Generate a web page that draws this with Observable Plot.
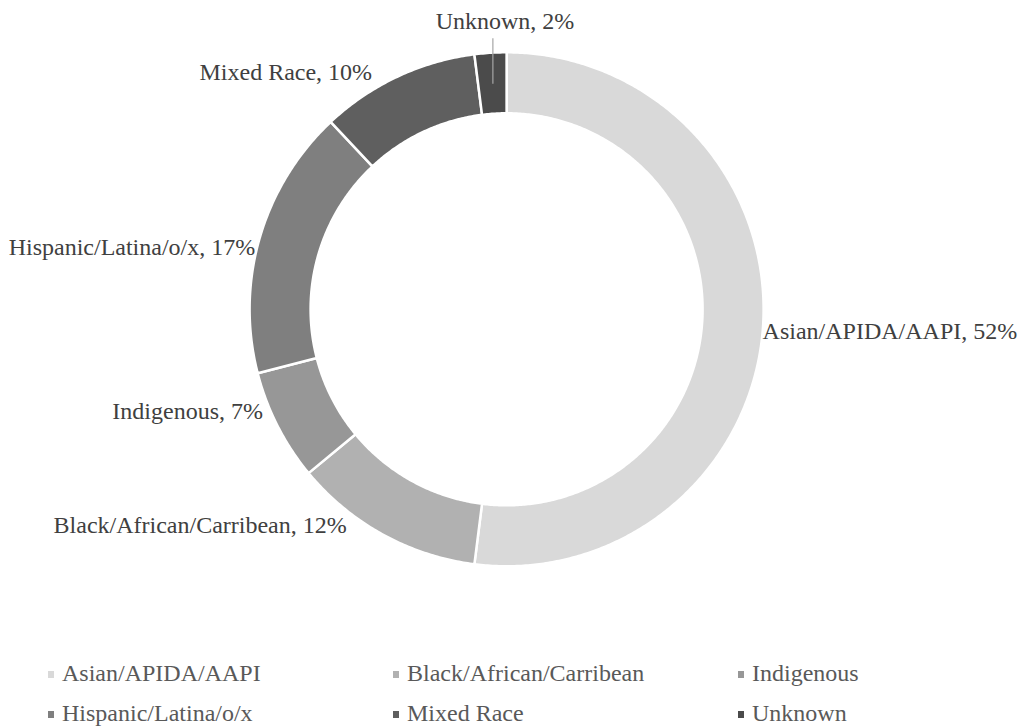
<!DOCTYPE html>
<html>
<head>
<meta charset="utf-8">
<script src="https://cdn.jsdelivr.net/npm/d3@7"></script>
<script src="https://cdn.jsdelivr.net/npm/@observablehq/plot@0.6"></script>
<style>
  body { margin: 0; background: #fff; font-family: "Liberation Serif", "Tinos", "DejaVu Serif", "Times New Roman", serif; }
  #chart { position: absolute; left: 0; top: 0; }
  #legend { position: absolute; left: 0; top: 653px; padding-left: 48px; display: grid;
            grid-template-columns: 345px 345px 300px; line-height: 40px; font-size: 24px; color: #595959;
            font-family: "Liberation Serif", "Tinos", "DejaVu Serif", "Times New Roman", serif; }
  #legend .sw { display: inline-block; width: 6px; height: 7px; margin-right: 8px; vertical-align: 3px; }
</style>
</head>
<body>
<div id="chart"></div>
<div id="legend"></div>
<script>
// ---- data ----
const categories = ["Asian/APIDA/AAPI", "Black/African/Carribean", "Indigenous", "Hispanic/Latina/o/x", "Mixed Race", "Unknown"];
const shares = [52, 12, 7, 17, 10, 2];
const colors = ["#d9d9d9", "#b1b1b1", "#979797", "#7f7f7f", "#5f5f5f", "#4b4b4b"];
// legend order (row-major, 3 columns)
const legendOrder = ["Asian/APIDA/AAPI", "Black/African/Carribean", "Indigenous", "Hispanic/Latina/o/x", "Mixed Race", "Unknown"];

// ---- layout ----
const W = 1021, H = 640;
const cx = 506.6, cy = 309.3;
const R = 257, r = 196;
// label nudges (px) from the slice's outer mid-point, and anchor side
const labelLayout = {
  "Asian/APIDA/AAPI":        {dx: 0,   dy: 5,   anchor: "start"},
  "Black/African/Carribean": {dx: -37, dy: -9,  anchor: "end"},
  "Indigenous":              {dx: -16, dy: -15, anchor: "end"},
  "Hispanic/Latina/o/x":     {dx: -6,  dy: 9,   anchor: "end"},
  "Mixed Race":              {dx: -26, dy: -6,  anchor: "end"},
  "Unknown":                 {dx: 14,  dy: -33, anchor: "middle"}
};

const pie = d3.pie().sort(null).value(d => d)(shares);
const polar = (a, rad) => [Math.sin(a) * rad, -Math.cos(a) * rad];

const ringPts = [];
const labels = [];
const leaders = [];
pie.forEach((p, i) => {
  const name = categories[i];
  const span = p.endAngle - p.startAngle;
  const n = Math.max(2, Math.ceil(span * 180 / Math.PI * 2));
  for (let k = 0; k <= n; k++) {
    const a = p.startAngle + span * k / n;
    const [ox, oy] = polar(a, R);
    const [ix, iy] = polar(a, r);
    ringPts.push({name, ox, oy, ix, iy});
  }
  const mid = (p.startAngle + p.endAngle) / 2;
  const [mx, my] = polar(mid, R - 1);
  const L = labelLayout[name];
  labels.push({name, text: `${name}, ${shares[i]}%`, x: mx + L.dx, y: my + L.dy, anchor: L.anchor});
  if (name === "Unknown") {
    const [lx1, ly1] = polar(mid, (R + r) / 2);
    leaders.push({x1: lx1, y1: ly1, x2: lx1, y2: my - 16});
  }
});

const font = "'Liberation Serif', 'Tinos', 'DejaVu Serif', 'Times New Roman', serif";
const textMark = anchor => Plot.text(labels.filter(d => d.anchor === anchor), {
  x: "x", y: "y", text: "text", textAnchor: anchor, lineAnchor: "middle",
  fontSize: 24, fill: "#404040", fontFamily: font
});

const chart = Plot.plot({
  width: W, height: H,
  margin: 0,
  x: {domain: [-cx, W - cx], range: [0, W], axis: null},
  y: {domain: [-cy, H - cy], range: [0, H], axis: null},
  color: {domain: categories, range: colors},
  style: {background: "#fff", fontFamily: font},
  marks: [
    Plot.area(ringPts, {x1: "ox", y1: "oy", x2: "ix", y2: "iy", z: "name", fill: "name",
                        stroke: "white", strokeWidth: 2.5, curve: "linear"}),
    Plot.link(leaders, {x1: "x1", y1: "y1", x2: "x2", y2: "y2", stroke: "#a6a6a6", strokeWidth: 1.2}),
    textMark("start"),
    textMark("end"),
    textMark("middle")
  ]
});
document.getElementById("chart").append(chart);

// ---- legend ----
const colorScale = chart.scale("color");
const leg = document.getElementById("legend");
legendOrder.forEach(name => {
  const item = document.createElement("div");
  const sw = document.createElement("span");
  sw.className = "sw";
  sw.style.background = colorScale.range[colorScale.domain.indexOf(name)];
  item.append(sw, document.createTextNode(name));
  leg.append(item);
});
</script>
</body>
</html>
